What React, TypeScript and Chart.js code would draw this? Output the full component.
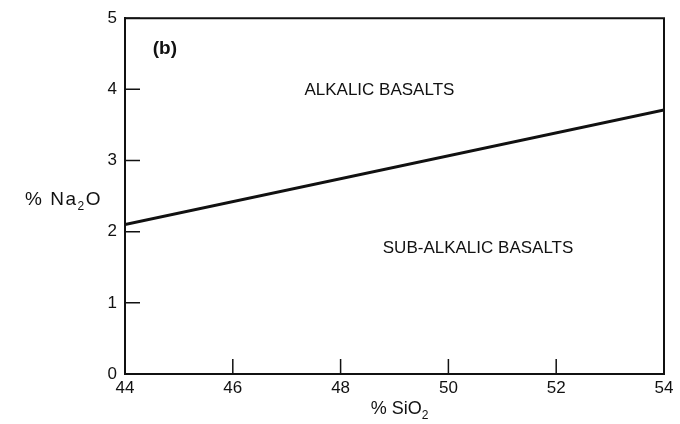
import React, { useEffect, useRef } from "react";
import { Chart, registerables } from "chart.js";

Chart.register(...registerables);

const boundaryX = [44, 54];
const boundaryY = [2.1, 3.71];
const xTicks = [44, 46, 48, 50, 52, 54];
const yTicks = [0, 1, 2, 3, 4, 5];
const regionLabels = ["ALKALIC BASALTS", "SUB-ALKALIC BASALTS"];
const regionX = [48.72, 50.55];
const regionY = [3.99, 1.76];
const panelLabel = "(b)";
const panelX = 44.74;
const panelY = 4.57;

const INK = "#111111";
const FONT = "'Liberation Sans', Arial, Helvetica, sans-serif";

function drawSubText(ctx: CanvasRenderingContext2D, parts: [string, boolean][], x: number, y: number, size: number, align: "left" | "center") {
  let total = 0;
  const widths: number[] = [];
  for (const [t, sub] of parts) {
    ctx.font = `${sub ? Math.round(size * 0.65) : size}px ${FONT}`;
    const w = ctx.measureText(t).width;
    widths.push(w);
    total += w;
  }
  let cx = align === "center" ? x - total / 2 : x;
  ctx.textAlign = "left";
  ctx.textBaseline = "alphabetic";
  parts.forEach(([t, sub], i) => {
    ctx.font = `${sub ? Math.round(size * 0.65) : size}px ${FONT}`;
    ctx.fillText(t, cx, sub ? y + size * 0.25 : y);
    cx += widths[i];
  });
}

const overlay = {
  id: "overlay",
  afterDraw(chart: any) {
    const { ctx, chartArea: a, scales } = chart;
    const xs = scales.x;
    const ys = scales.y;
    ctx.save();
    ctx.strokeStyle = INK;
    ctx.lineWidth = 2;
    ctx.beginPath();
    ctx.moveTo(a.left, a.top);
    ctx.lineTo(a.right, a.top);
    ctx.lineTo(a.right, a.bottom);
    ctx.stroke();
    ctx.lineWidth = 1.5;
    ctx.beginPath();
    for (const v of xTicks) {
      const px = xs.getPixelForValue(v);
      ctx.moveTo(px, a.bottom);
      ctx.lineTo(px, a.bottom - 15);
    }
    for (const v of yTicks) {
      const py = ys.getPixelForValue(v);
      ctx.moveTo(a.left, py);
      ctx.lineTo(a.left + 15, py);
    }
    ctx.stroke();
    ctx.fillStyle = INK;
    ctx.font = `17px ${FONT}`;
    ctx.textAlign = "center";
    ctx.textBaseline = "middle";
    regionLabels.forEach((t, i) => {
      ctx.fillText(t, xs.getPixelForValue(regionX[i]), ys.getPixelForValue(regionY[i]));
    });
    ctx.font = `bold 19px ${FONT}`;
    ctx.fillText(panelLabel, xs.getPixelForValue(panelX), ys.getPixelForValue(panelY));
    const xc = (a.left + a.right) / 2;
    drawSubText(ctx, [["% SiO", false], ["2", true]], xc + 5, a.bottom + 40, 18, "center");
    (ctx as any).letterSpacing = "1.5px";
    drawSubText(ctx, [["% Na", false], ["2", true], ["O", false]], 25, (a.top + a.bottom) / 2 + 9, 19, "left");
    ctx.restore();
  },
};

export default function App() {
  const ref = useRef<HTMLCanvasElement>(null);
  useEffect(() => {
    document.body.style.margin = "0";
    const canvas = ref.current!;
    const chart = new Chart(canvas, {
      type: "scatter",
      data: {
        datasets: [
          {
            type: "line",
            data: boundaryX.map((x, i) => ({ x, y: boundaryY[i] })),
            borderColor: INK,
            borderWidth: 3,
            pointRadius: 0,
            fill: false,
          } as any,
        ],
      },
      options: {
        responsive: false,
        animation: false,
        devicePixelRatio: 1,
        layout: { padding: { left: 0, top: 14, right: 16, bottom: 0 } },
        plugins: { legend: { display: false }, tooltip: { enabled: false } },
        scales: {
          x: {
            type: "linear",
            min: 44,
            max: 54,
            afterBuildTicks: (s: any) => {
              s.ticks = xTicks.map((v) => ({ value: v }));
            },
            afterFit: (s: any) => {
              s.height = 50;
            },
            ticks: { color: INK, font: { family: FONT, size: 17 }, padding: 4, maxRotation: 0, autoSkip: false },
            grid: { display: true, drawOnChartArea: false, drawTicks: false },
            border: { display: true, color: INK, width: 2 },
          },
          y: {
            type: "linear",
            min: 0,
            max: 5,
            afterBuildTicks: (s: any) => {
              s.ticks = yTicks.map((v) => ({ value: v }));
            },
            afterFit: (s: any) => {
              s.width = 125;
            },
            ticks: { color: INK, font: { family: FONT, size: 17 }, padding: 8, autoSkip: false },
            grid: { display: true, drawOnChartArea: false, drawTicks: false },
            border: { display: true, color: INK, width: 2 },
          },
        },
      },
      plugins: [overlay],
    });
    return () => chart.destroy();
  }, []);
  return <canvas ref={ref} width={680} height={424} style={{ display: "block" }} />;
}
